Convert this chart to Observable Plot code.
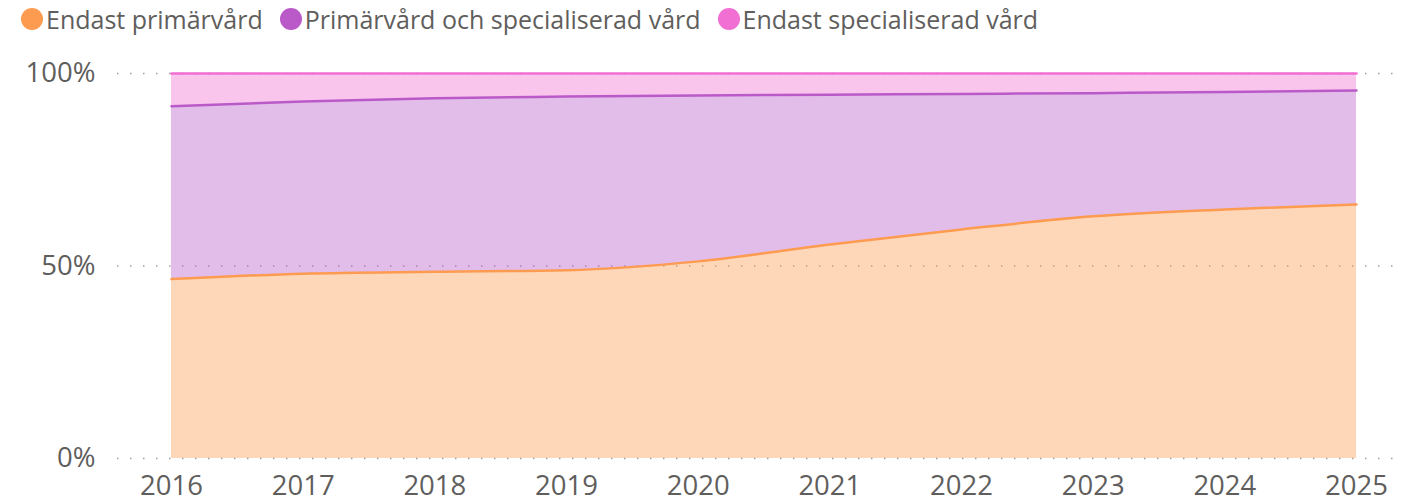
<!DOCTYPE html>
<html><head><meta charset="utf-8">
<script src="https://cdn.jsdelivr.net/npm/d3@7"></script>
<script src="https://cdn.jsdelivr.net/npm/@observablehq/plot@0.6"></script>
<style>
body{margin:0;background:#fff;font-family:"Open Sans",sans-serif;}
#legend{height:38px;display:flex;align-items:center;padding-left:21px;box-sizing:border-box;color:#605E5C;font-size:25px;white-space:nowrap;}
.item{display:flex;align-items:center;margin-right:17px;}
.dot{width:22px;height:22px;border-radius:50%;margin-right:3px;flex:none;}
#chart svg{display:block;}
</style></head><body>
<div id="legend"></div><div id="chart"></div>
<script>
const years = [2016, 2017, 2018, 2019, 2020, 2021, 2022, 2023, 2024, 2025];
const seriesNames = ["Endast primärvård", "Primärvård och specialiserad vård", "Endast specialiserad vård"];
const colors = ["#FD9B50", "#BA5AC8", "#F16ED2"];
const endastPrimarvard = [46.6, 48.0, 48.5, 48.9, 51.2, 55.6, 59.5, 62.9, 64.7, 66.0];
const primarOchSpecialiserad = [44.9, 44.7, 45.1, 45.1, 43.1, 38.9, 35.2, 32.0, 30.5, 29.6];
const endastSpecialiserad = [8.5, 7.3, 6.4, 6.0, 5.7, 5.5, 5.3, 5.1, 4.8, 4.4];
const yTicks = [0, 50, 100];

const seriesValues = [endastPrimarvard, primarOchSpecialiserad, endastSpecialiserad];
const rows = [];
years.forEach((year, i) => {
  let acc = 0;
  seriesValues.forEach((vals, s) => {
    rows.push({year, series: seriesNames[s], y1: acc, y2: acc + vals[i]});
    acc += vals[i];
  });
});

const legend = document.getElementById("legend");
seriesNames.forEach((n, i) => {
  const it = document.createElement("div"); it.className = "item";
  const d = document.createElement("span"); d.className = "dot"; d.style.background = colors[i];
  const t = document.createElement("span"); t.textContent = n;
  it.appendChild(d); it.appendChild(t); legend.appendChild(it);
});

const chart = Plot.plot({
  width: 1417, height: 466,
  marginLeft: 117, marginRight: 17, marginTop: 35, marginBottom: 46,
  style: {fontSize: "27.5px", fontFamily: "Open Sans, sans-serif", color: "#605E5C", background: "#fff"},
  x: {domain: [2016, 2025], insetLeft: 54, insetRight: 44, label: null},
  y: {domain: [0, 100], label: null},
  color: {domain: seriesNames, range: colors},
  marks: [
    Plot.ruleY(yTicks, {stroke: "#A19F9D", strokeWidth: 1.5, strokeDasharray: "1.5,11.5"}),
    Plot.areaY(rows, {x: "year", y1: "y1", y2: "y2", z: "series", fill: "series", fillOpacity: 0.4, curve: "monotone-x"}),
    Plot.lineY(rows, {x: "year", y: "y2", z: "series", stroke: "series", strokeWidth: 2.5, curve: "monotone-x"}),
    Plot.axisX(years, {tickSize: 0, tickPadding: 17, tickFormat: d => String(d), label: null, fill: "#605E5C"}),
    Plot.axisY(yTicks, {tickSize: 0, tickPadding: 22, tickFormat: d => d + "%", label: null, fill: "#605E5C"})
  ]
});
document.getElementById("chart").appendChild(chart);
</script>
</body></html>
